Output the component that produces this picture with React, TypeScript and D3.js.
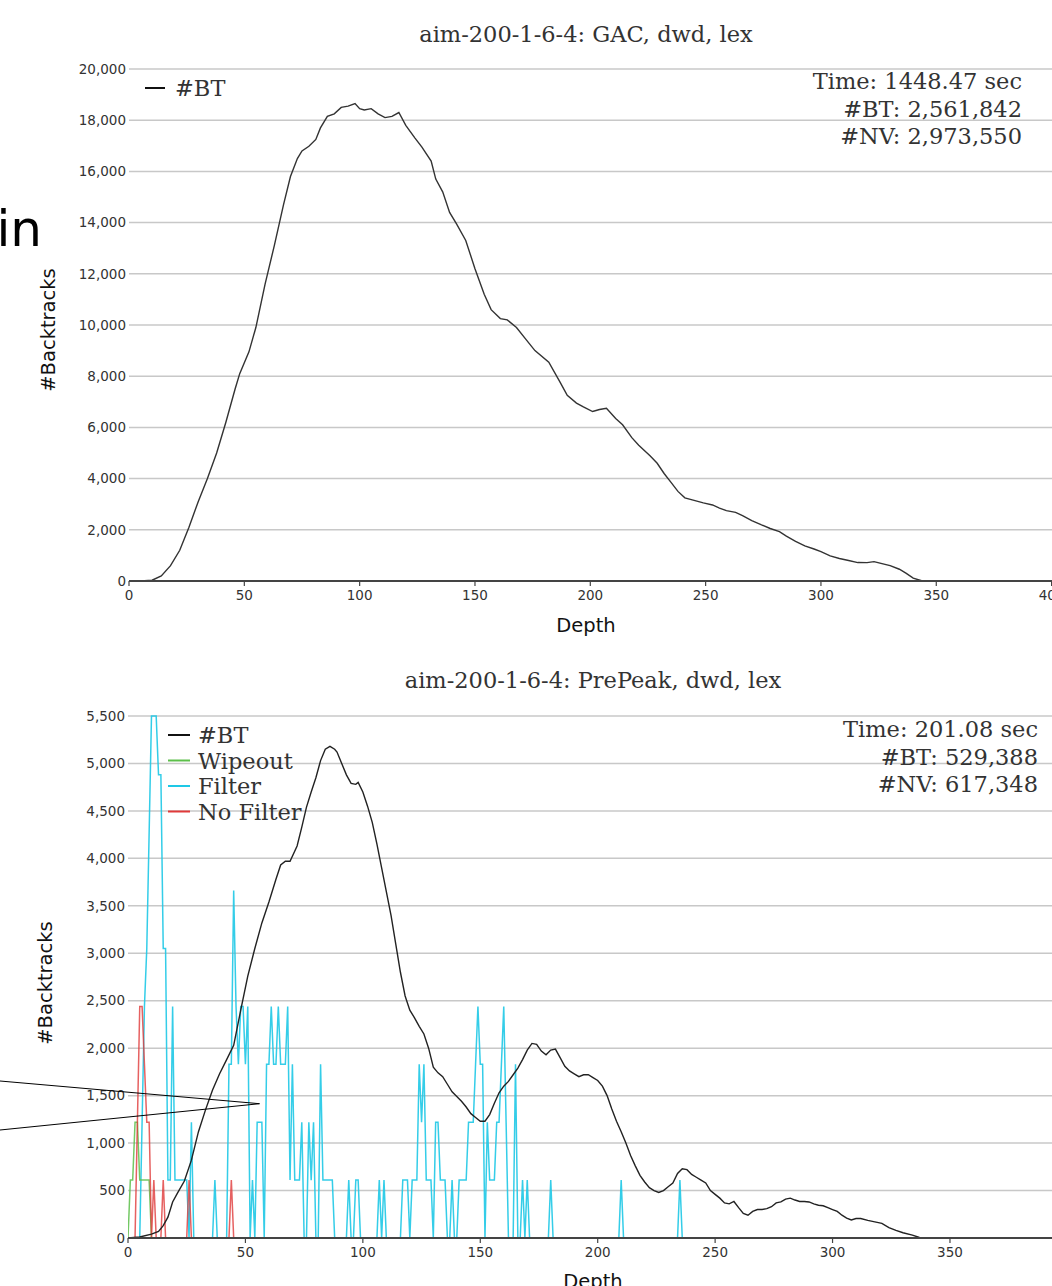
import React from "react";
import * as d3 from "d3";

// GAC run: [depth, #BT]
const gacBT: [number, number][] = [
  [0, 0], [5, 0], [10, 30], [14, 200], [18, 600], [22, 1200], [26, 2100], [30, 3100], [34, 4000],
  [38, 5000], [42, 6200], [46, 7500], [48, 8100], [52, 8950], [55, 9900], [59, 11600], [63, 13100],
  [67, 14700], [70, 15800], [73, 16500], [75, 16800], [78, 16980], [81, 17250], [83, 17700],
  [86, 18150], [89, 18250], [92, 18500], [95, 18550], [98, 18650], [100, 18450], [102, 18400],
  [105, 18450], [108, 18250], [111, 18100], [114, 18150], [117, 18300], [120, 17800], [124, 17300],
  [127, 16950], [131, 16400], [133, 15700], [136, 15200], [139, 14400], [142, 13950], [146, 13300],
  [150, 12200], [154, 11200], [157, 10600], [161, 10250], [164, 10200], [168, 9900], [172, 9450],
  [176, 9000], [182, 8550], [187, 7750], [190, 7250], [194, 6950], [197, 6800], [201, 6620],
  [204, 6700], [207, 6750], [211, 6350], [214, 6100], [218, 5600], [221, 5300], [226, 4880],
  [229, 4600], [232, 4200], [235, 3850], [238, 3500], [241, 3250], [245, 3150], [249, 3050],
  [253, 2970], [256, 2850], [259, 2750], [263, 2680], [266, 2550], [270, 2360], [274, 2200],
  [278, 2050], [282, 1930], [285, 1750], [289, 1550], [293, 1370], [297, 1250], [300, 1150],
  [304, 980], [308, 880], [312, 800], [316, 720], [320, 716], [323, 755], [326, 690], [330, 600],
  [334, 460], [337, 300], [340, 110], [344, 0], [400, 0],
];

// PrePeak run: [depth, #BT]
const prepeakBT: [number, number][] = [
  [0, 0], [5, 10], [10, 40], [13, 70], [15, 130], [17, 220], [19, 380], [21, 470], [24, 600],
  [27, 820], [30, 1120], [33, 1350], [36, 1560], [39, 1730], [42, 1880], [45, 2030], [48, 2400],
  [51, 2760], [54, 3050], [57, 3320], [60, 3540], [63, 3780], [65, 3930], [67, 3970], [69, 3970],
  [72, 4130], [74, 4330], [76, 4540], [78, 4700], [80, 4850], [82, 5030], [84, 5150], [86, 5180],
  [88, 5150], [89, 5120], [91, 5000], [93, 4880], [95, 4790], [97, 4780], [98, 4800], [100, 4700],
  [102, 4550], [104, 4380], [106, 4150], [108, 3900], [110, 3650], [112, 3400], [114, 3100],
  [116, 2800], [118, 2550], [120, 2400], [122, 2320], [124, 2230], [126, 2150], [128, 2000],
  [130, 1800], [132, 1740], [134, 1700], [136, 1620], [138, 1540], [140, 1490], [142, 1440],
  [144, 1380], [146, 1310], [148, 1270], [150, 1230], [152, 1230], [154, 1300], [156, 1420],
  [158, 1530], [160, 1600], [162, 1650], [164, 1720], [166, 1790], [168, 1880], [170, 1980],
  [172, 2050], [174, 2040], [176, 1970], [178, 1930], [180, 1980], [182, 1990], [184, 1900],
  [186, 1810], [188, 1760], [190, 1730], [192, 1700], [194, 1720], [196, 1720], [198, 1690],
  [200, 1660], [202, 1600], [204, 1500], [206, 1360], [208, 1230], [210, 1120], [212, 1000],
  [214, 870], [216, 760], [218, 660], [220, 590], [222, 530], [224, 500], [226, 480], [228, 500],
  [230, 540], [232, 580], [234, 680], [236, 730], [238, 720], [240, 670], [242, 640], [244, 610],
  [246, 580], [248, 500], [250, 460], [252, 420], [254, 370], [256, 360], [258, 385], [260, 320],
  [262, 260], [264, 240], [266, 280], [268, 300], [270, 300], [272, 310], [274, 330], [276, 370],
  [278, 380], [280, 410], [282, 420], [284, 400], [286, 385], [288, 385], [290, 380], [292, 360],
  [294, 345], [296, 340], [298, 320], [300, 300], [302, 280], [304, 240], [306, 210], [308, 190],
  [310, 205], [312, 205], [315, 185], [318, 170], [321, 155], [324, 110], [327, 80], [330, 55],
  [334, 30], [337, 5], [343, 0], [400, 0],
];

// per-depth counts, index = depth
const filterVals = [
  0, 0, 0, 0, 0, 0, 1220, 2440, 3050, 4270,
  5500, 5500, 5500, 4880, 4880, 3050, 3050, 610, 610, 2440,
  610, 610, 610, 610, 610, 610, 0, 1220, 0, 0,
  0, 0, 0, 0, 0, 0, 0, 610, 0, 0,
  0, 0, 0, 1830, 1830, 3660, 2440, 1830, 2440, 2440,
  1830, 2440, 0, 610, 0, 1220, 1220, 1220, 0, 1830,
  1830, 2440, 1830, 1830, 2440, 1830, 1830, 1830, 2440, 610,
  1830, 610, 610, 610, 1220, 0, 0, 1220, 610, 1220,
  0, 0, 1830, 610, 610, 610, 610, 610, 0, 0,
  0, 0, 0, 0, 610, 0, 0, 610, 610, 0,
  0, 0, 0, 0, 0, 0, 0, 610, 0, 610,
  0, 0, 0, 0, 0, 0, 0, 610, 610, 610,
  0, 610, 610, 610, 1830, 1220, 1830, 610, 610, 610,
  0, 1220, 1220, 610, 610, 610, 0, 0, 610, 0,
  0, 610, 610, 610, 610, 1220, 1220, 1220, 1830, 2440,
  1830, 1830, 0, 1220, 610, 610, 610, 1220, 1220, 1830,
  2440, 1220, 0, 0, 0, 1830, 0, 0, 610, 0,
  610, 0, 0, 0, 0, 0, 0, 0, 0, 0,
  610, 0, 0, 0, 0, 0, 0, 0, 0, 0,
  0, 0, 0, 0, 0, 0, 0, 0, 0, 0,
  0, 0, 0, 0, 0, 0, 0, 0, 0, 0,
  610, 0, 0, 0, 0, 0, 0, 0, 0, 0,
  0, 0, 0, 0, 0, 0, 0, 0, 0, 0,
  0, 0, 0, 0, 0, 610, 0, 0, 0, 0,
  0,
];
const noFilterVals = [
  0, 0, 0, 0, 1220, 2440, 2440, 1830, 1220, 1220,
  0, 610, 0, 0, 0, 610, 0, 0, 0, 0,
  0, 0, 0, 0, 0, 0, 610, 0, 0, 0,
  0, 0, 0, 0, 0, 0, 0, 0, 0, 0,
  0, 0, 0, 0, 610, 0, 0, 0, 0, 0,
];
const wipeoutVals = [0, 610, 610, 1220, 1220, 610, 610, 610, 610, 610, 0, 0, 0, 0, 0, 0];

const topTicksY = d3.range(0, 20001, 2000);
const botTicksY = d3.range(0, 5501, 500);
const ticksX = [0, 50, 100, 150, 200, 250, 300, 350, 400];

const topStats = ["Time: 1448.47 sec", "#BT: 2,561,842", "#NV: 2,973,550"];
const botStats = ["Time: 201.08 sec", "#BT: 529,388", "#NV: 617,348"];
const botLegend = [
  { name: "#BT", color: "#111" },
  { name: "Wipeout", color: "#5cbf4a" },
  { name: "Filter", color: "#1ec8e6" },
  { name: "No Filter", color: "#e03a3a" },
];

const SANS = "DejaVu Sans, sans-serif";
const SERIF = "DejaVu Serif, serif";
const fmt = d3.format(",");

const W = 1052;
const H = 1286;

export default function App() {
  const tx = d3.scaleLinear().domain([0, 400]).range([129, 1051.6]);
  const ty = d3.scaleLinear().domain([0, 20000]).range([581, 69]);
  const bx = d3.scaleLinear().domain([0, 400]).range([128, 1067.4]);
  const by = d3.scaleLinear().domain([0, 5500]).range([1238, 716]);

  const topLine = d3.line<[number, number]>().x((d) => tx(d[0])).y((d) => ty(d[1]));
  const botLine = d3.line<[number, number]>().x((d) => bx(d[0])).y((d) => by(d[1]));
  const idxLine = d3.line<number>().x((_, i) => bx(i)).y((v) => by(v));

  return (
    <svg width={W} height={H} style={{ position: "absolute", left: 0, top: 0, background: "#fff" }}>
      <defs>
        <clipPath id="botClip">
          <rect x={128} y={714} width={W - 128} height={1238 - 714} />
        </clipPath>
      </defs>

      {/* stray text at left edge */}
      <text x={42} y={246} fontFamily={SANS} fontSize={50} textAnchor="end" fill="#000">in</text>

      {/* ===== top chart ===== */}
      <text x={586} y={42} fontFamily={SERIF} fontSize={22.5} textAnchor="middle" fill="#333">
        aim-200-1-6-4: GAC, dwd, lex
      </text>
      {topTicksY.map((t) => (
        <g key={t}>
          {t > 0 && <line x1={129} x2={W} y1={ty(t)} y2={ty(t)} stroke="#c8c8c8" strokeWidth={1.5} />}
          <text x={126} y={ty(t)} dy="0.35em" fontFamily={SANS} fontSize={13.5} textAnchor="end" fill="#333">
            {fmt(t)}
          </text>
        </g>
      ))}
      <path d={topLine(gacBT) ?? ""} fill="none" stroke="#333" strokeWidth={1.4} />
      <line x1={129} x2={W} y1={ty(0)} y2={ty(0)} stroke="#444" strokeWidth={1.8} />
      {ticksX.map((t) => (
        <g key={t}>
          <line x1={tx(t)} x2={tx(t)} y1={ty(0)} y2={ty(0) + 5} stroke="#444" strokeWidth={1.2} />
          <text x={tx(t)} y={ty(0) + 19} fontFamily={SANS} fontSize={13.5} textAnchor="middle" fill="#333">
            {t}
          </text>
        </g>
      ))}
      <text x={586} y={632} fontFamily={SANS} fontSize={19.5} textAnchor="middle" fill="#111">Depth</text>
      <text transform="translate(48,330) rotate(-90)" dy="0.35em" fontFamily={SANS} fontSize={19.5} textAnchor="middle" fill="#111">
        #Backtracks
      </text>
      <line x1={145} x2={165} y1={88} y2={88} stroke="#111" strokeWidth={2} />
      <text x={175} y={96} fontFamily={SERIF} fontSize={22.5} fill="#333">#BT</text>
      {topStats.map((s, i) => (
        <text key={s} x={1022} y={89 + i * 27.5} fontFamily={SERIF} fontSize={22.5} textAnchor="end" fill="#333">
          {s}
        </text>
      ))}

      {/* ===== bottom chart ===== */}
      <text x={593} y={688} fontFamily={SERIF} fontSize={22.5} textAnchor="middle" fill="#333">
        aim-200-1-6-4: PrePeak, dwd, lex
      </text>
      {botTicksY.map((t) => (
        <g key={t}>
          {t > 0 && <line x1={128} x2={W} y1={by(t)} y2={by(t)} stroke="#c8c8c8" strokeWidth={1.5} />}
          <text x={125} y={by(t)} dy="0.35em" fontFamily={SANS} fontSize={13.5} textAnchor="end" fill="#333">
            {fmt(t)}
          </text>
        </g>
      ))}
      <g clipPath="url(#botClip)" fill="none" strokeWidth={1.5} strokeLinejoin="miter">
        <path d={idxLine(filterVals) ?? ""} stroke={botLegend[2].color} opacity={0.9} />
        <path d={idxLine(wipeoutVals) ?? ""} stroke={botLegend[1].color} opacity={0.85} />
        <path d={idxLine(noFilterVals) ?? ""} stroke={botLegend[3].color} opacity={0.8} />
        <path d={botLine(prepeakBT) ?? ""} stroke="#222" strokeWidth={1.4} />
      </g>
      <line x1={128} x2={W} y1={by(0)} y2={by(0)} stroke="#444" strokeWidth={1.8} />
      {ticksX.map((t) => (
        <g key={t}>
          <line x1={bx(t)} x2={bx(t)} y1={by(0)} y2={by(0) + 5} stroke="#444" strokeWidth={1.2} />
          <text x={bx(t)} y={by(0) + 19} fontFamily={SANS} fontSize={13.5} textAnchor="middle" fill="#333">
            {t}
          </text>
        </g>
      ))}
      <text x={593} y={1288} fontFamily={SANS} fontSize={19.5} textAnchor="middle" fill="#111">Depth</text>
      <text transform="translate(45,983) rotate(-90)" dy="0.35em" fontFamily={SANS} fontSize={19.5} textAnchor="middle" fill="#111">
        #Backtracks
      </text>
      {botLegend.map((l, i) => (
        <g key={l.name}>
          <line x1={168} x2={190} y1={735 + i * 25.5} y2={735 + i * 25.5} stroke={l.color} strokeWidth={2} />
          <text x={198} y={743 + i * 25.5} fontFamily={SERIF} fontSize={22.5} fill="#333">{l.name}</text>
        </g>
      ))}
      {botStats.map((s, i) => (
        <text key={s} x={1038} y={737 + i * 27.5} fontFamily={SERIF} fontSize={22.5} textAnchor="end" fill="#333">
          {s}
        </text>
      ))}

      {/* pointer lines drawn over the lower chart */}
      <line x1={0} y1={1081} x2={bx(56)} y2={by(1415)} stroke="#000" strokeWidth={1} />
      <line x1={0} y1={1130} x2={bx(56)} y2={by(1415)} stroke="#000" strokeWidth={1} />
    </svg>
  );
}
